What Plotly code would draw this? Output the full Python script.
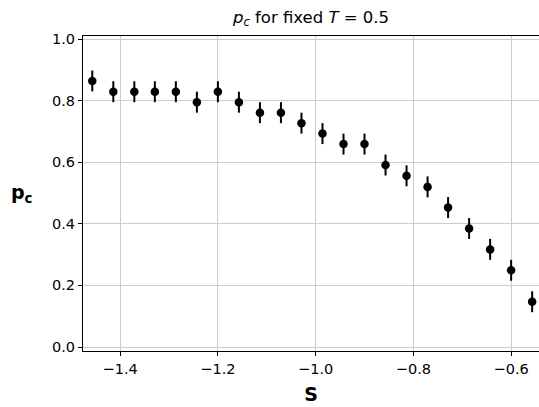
import plotly.graph_objects as go

S = [-1.457, -1.414, -1.371, -1.329, -1.286, -1.243, -1.200, -1.157, -1.114, -1.071, -1.029,
     -0.986, -0.943, -0.900, -0.857, -0.814, -0.771, -0.729, -0.686, -0.643, -0.600, -0.557]
pc = [0.864, 0.829, 0.829, 0.829, 0.829, 0.795, 0.829, 0.795, 0.761, 0.761, 0.727,
      0.693, 0.659, 0.659, 0.591, 0.556, 0.520, 0.453, 0.385, 0.317, 0.249, 0.147]
err = [0.034] * len(S)

xticks = [-1.4, -1.2, -1.0, -0.8, -0.6]
yticks = [0.0, 0.2, 0.4, 0.6, 0.8, 1.0]

font = "DejaVu Sans"

W, H = 539, 407
ML, MR, MT, MB = 83, 0, 36, 56
plot_w = W - ML - MR
plot_h = H - MT - MB

fig = go.Figure()
fig.add_trace(go.Scatter(
    x=S, y=pc, mode="markers",
    marker=dict(color="black", size=8.5),
    error_y=dict(type="data", array=err, visible=True, color="black", thickness=2, width=0),
    showlegend=False,
))

fig.update_layout(
    width=W, height=H,
    margin=dict(l=ML, r=MR, t=MT, b=MB, autoexpand=False),
    plot_bgcolor="white", paper_bgcolor="white",
    font=dict(family=font, size=14.5, color="black"),
    title=dict(text="<i>p</i><sub><i>c</i></sub> for fixed <i>T</i> = 0.5",
               x=0.5, xref="paper", y=1 - 17 / H, yref="container",
               xanchor="center", yanchor="middle",
               font=dict(family=font, size=16.5, color="black")),
    xaxis=dict(range=[-1.476, -0.543], tickvals=xticks,
               ticktext=["\u22121.4", "\u22121.2", "\u22121.0", "\u22120.8", "\u22120.6"],
               showgrid=True, gridcolor="#cccccc", gridwidth=1, zeroline=False,
               showline=True, linecolor="black", linewidth=1.2, mirror=True,
               ticks="outside", ticklen=4, tickcolor="black", automargin=False,
               title=dict(text="<b>S</b>", font=dict(family=font, size=19), standoff=12)),
    yaxis=dict(range=[-0.013, 1.01], tickvals=yticks, tickformat=".1f",
               showgrid=True, gridcolor="#cccccc", gridwidth=1, zeroline=False,
               showline=True, linecolor="black", linewidth=1.2, automargin=False,
               ticks="outside", ticklen=4, tickcolor="black"),
    annotations=[dict(text="<b>p<sub>c</sub></b>",
                      x=(22 - ML) / plot_w, y=(H - MB - 193) / plot_h,
                      xref="paper", yref="paper",
                      showarrow=False, font=dict(family=font, size=19, color="black"),
                      xanchor="center", yanchor="middle")],
)

fig.write_html("out.html", config={"displayModeBar": False},
               post_script="document.body.style.margin='0';document.body.style.overflow='hidden';")
